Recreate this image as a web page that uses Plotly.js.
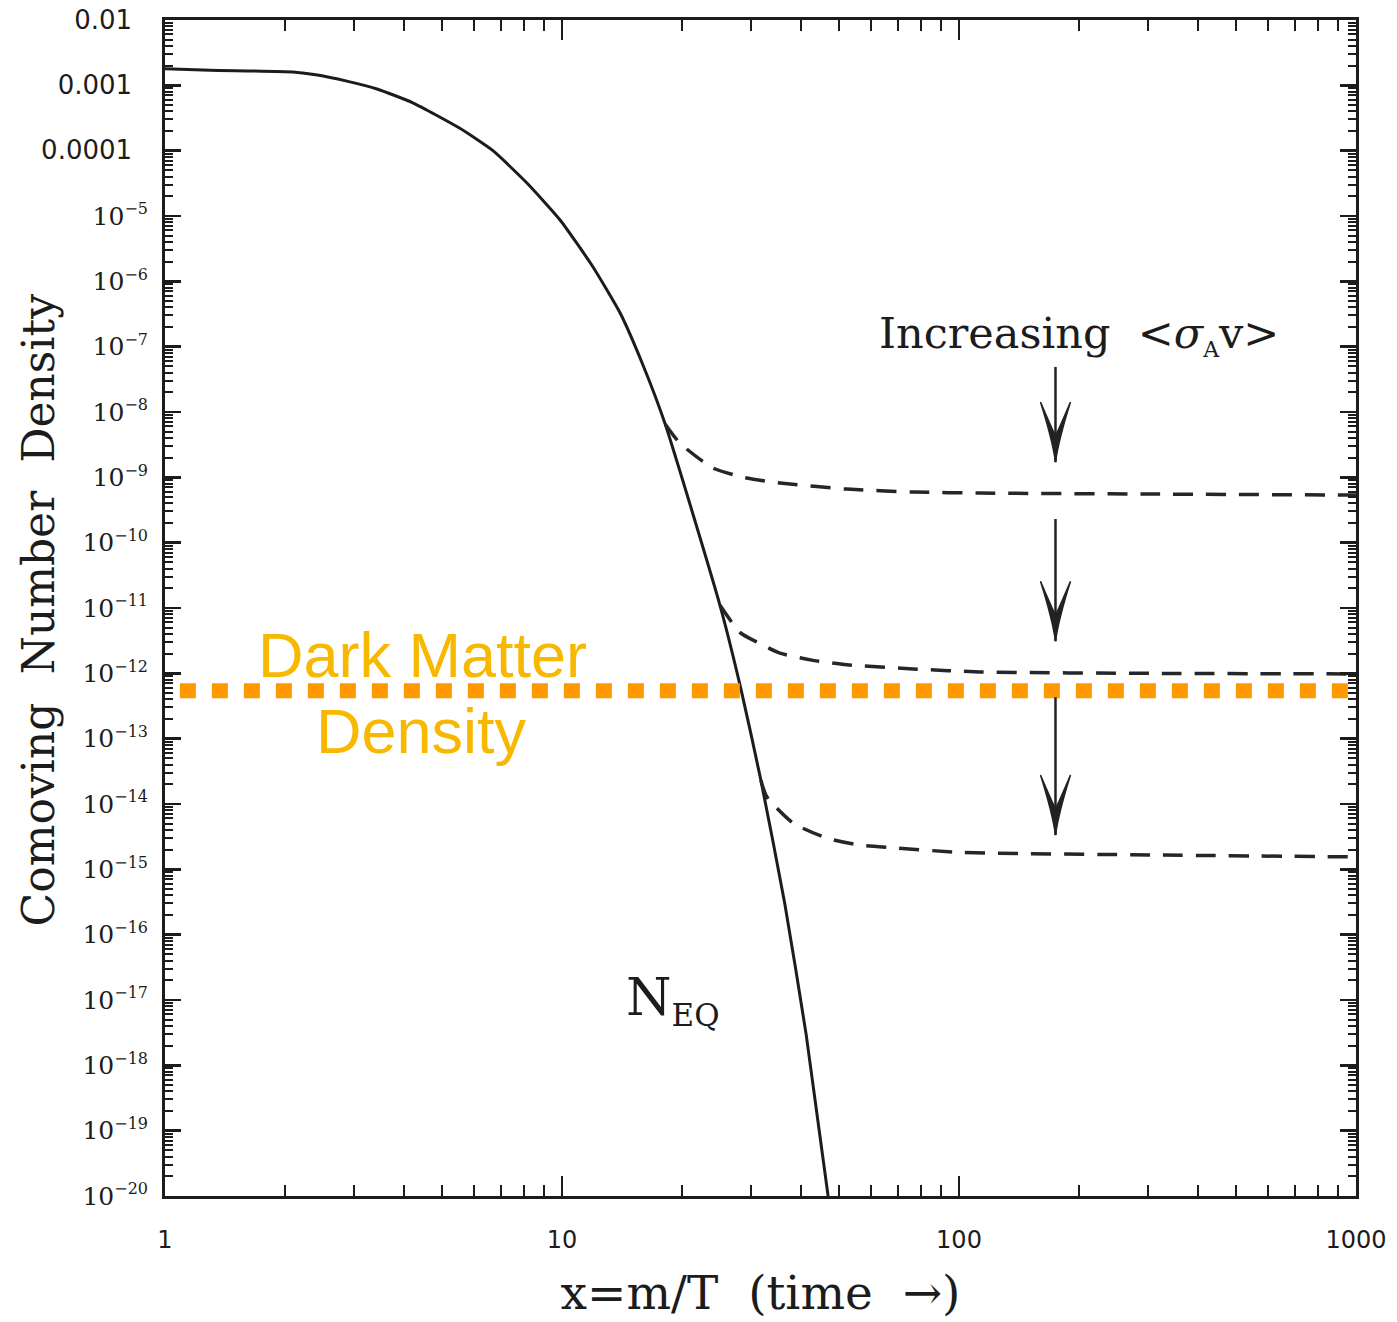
<!DOCTYPE html>
<html>
<head>
<meta charset="utf-8">
<script src="https://cdn.plot.ly/plotly-3.0.1.min.js"></script>
<style>
  html, body { margin: 0; padding: 0; background: #ffffff; }
  #chart { width: 1397px; height: 1322px; }
</style>
</head>
<body>
<div id="chart"></div>
<script>
// Equilibrium comoving number density N_EQ against x = m/T
const eqX = [1.0, 1.3, 2.1, 2.42, 2.87, 3.42, 4.21, 5.53, 6.70, 8.16, 9.89, 11.97, 14.0, 16.0, 18.2, 25.0, 28.3, 31.7, 36.4, 41.2, 46.8];
const eqY = [1.8e-3, 1.7e-3, 1.6e-3, 1.44e-3, 1.16e-3, 8.8e-4, 5.4e-4, 2.2e-4, 1.0e-4, 3.2e-5, 8.7e-6, 1.66e-6, 3.3e-7, 5.2e-8, 6.5e-9, 1.1e-11, 5.4e-13, 2.3e-14, 3.0e-16, 3.0e-18, 1e-20];

// Freeze-out branches, one per annihilation cross-section
const freeze1X = [18.2, 19.8, 24.0, 29.2, 35.4, 52.2, 76.6, 113, 303, 1000];
const freeze1Y = [6.5e-9, 3.35e-9, 1.39e-9, 9.75e-10, 8.2e-10, 6.6e-10, 5.96e-10, 5.75e-10, 5.55e-10, 5.36e-10];
const freeze2X = [25.0, 28.1, 31.0, 35.4, 42.9, 52.2, 76.6, 113, 303, 1000];
const freeze2Y = [1.1e-11, 4.2e-12, 3.0e-12, 2.04e-12, 1.58e-12, 1.35e-12, 1.17e-12, 1.05e-12, 1.0e-12, 9.8e-13];
const freeze3X = [31.7, 32.8, 38.2, 46.5, 56.4, 68.2, 101, 303, 1000];
const freeze3Y = [2.3e-14, 1.29e-14, 5.1e-15, 3.0e-15, 2.34e-15, 2.14e-15, 1.82e-15, 1.66e-15, 1.55e-15];

// Observed dark matter density level
const dmX = [1.09, 955];
const dmLevel = 5.4e-13;

// "Increasing <σv>" arrows: x position, shaft top, tip
const arrowX = 175;
const arrowTop = [4.9e-8, 2.3e-10, 4.3e-13];
const arrowTip = [1.71e-9, 3.1e-12, 3.35e-15];

// Axis ticks
const xTickVals = [1, 10, 100, 1000];
const xTickText = ['1', '10', '100', '1000'];
const yExponents = [];
for (let e = -2; e >= -20; e--) yExponents.push(e);
const serif = 'DejaVu Serif, serif';
const pad = '\u00a0\u00a0';
const yTickVals = yExponents.map(e => Math.pow(10, e));
const yTickText = yExponents.map(e => {
  if (e === -2) return '<span style="font-size:26px">0.01</span>' + pad;
  if (e === -3) return '<span style="font-size:26px">0.001</span>' + pad;
  if (e === -4) return '<span style="font-size:26px">0.0001</span>' + pad;
  return '<span style="font-family:' + serif + '">10<sup><span style="font-size:16px">\u2212' + (-e) + '</span></sup></span>';
});

function minorLogTicks(lo, hi) {
  const out = [];
  for (let d = lo; d < hi; d++) {
    for (let k = 2; k <= 9; k++) out.push(k * Math.pow(10, d));
  }
  return out;
}

const ink = '#1c1c1c';
const dashInk = '#262626';

const traces = [
  { x: eqX, y: eqY, mode: 'lines', name: 'N_EQ',
    line: { color: ink, width: 3, shape: 'spline', smoothing: 0.5 } },
  { x: freeze1X, y: freeze1Y, mode: 'lines', name: 'freeze-out 1',
    line: { color: dashInk, width: 3.5, dash: '20px,13px', shape: 'spline', smoothing: 0.6 } },
  { x: freeze2X, y: freeze2Y, mode: 'lines', name: 'freeze-out 2',
    line: { color: dashInk, width: 3.5, dash: '20px,13px', shape: 'spline', smoothing: 0.6 } },
  { x: freeze3X, y: freeze3Y, mode: 'lines', name: 'freeze-out 3',
    line: { color: dashInk, width: 3.5, dash: '20px,13px', shape: 'spline', smoothing: 0.6 } },
  { x: dmX, y: dmX.map(() => dmLevel), mode: 'lines', name: 'Dark Matter Density',
    line: { color: '#FF9900', width: 15, dash: '16px,16px' } }
];

const shapes = [];
arrowTip.forEach((tip, i) => {
  shapes.push({ type: 'line', xref: 'x', yref: 'y', x0: arrowX, x1: arrowX, y0: arrowTop[i], y1: tip,
    line: { color: '#222', width: 2.5 } });
  shapes.push({ type: 'path', xref: 'x', yref: 'y', xsizemode: 'pixel', ysizemode: 'pixel',
    xanchor: arrowX, yanchor: tip,
    path: 'M-15,60 Q-3,22 0,0 Q3,22 15,60 Q3,32 0,26 Q-3,32 -15,60 Z',
    fillcolor: '#222', line: { color: '#222', width: 1.5 } });
});

const layout = {
  width: 1397, height: 1322,
  margin: { l: 165, r: 41, t: 20, b: 126 },
  paper_bgcolor: '#ffffff', plot_bgcolor: '#ffffff',
  showlegend: false,
  font: { family: 'DejaVu Sans, sans-serif', color: ink },
  xaxis: {
    type: 'log', range: [0, 3],
    showgrid: false, zeroline: false,
    showline: true, linecolor: ink, linewidth: 3, mirror: 'allticks',
    ticks: 'inside', ticklen: 20, tickwidth: 2.5, tickcolor: ink,
    tickmode: 'array', tickvals: xTickVals, ticktext: xTickText,
    tickfont: { family: 'DejaVu Sans, sans-serif', size: 24, color: ink },
    ticklabelstandoff: 20,
    minor: { ticks: 'inside', ticklen: 11, tickwidth: 2, tickcolor: ink,
             tickmode: 'array', tickvals: minorLogTicks(0, 3), showgrid: false },
    title: { text: 'x=m/T\u00a0\u00a0(time\u00a0\u00a0\u2192)', standoff: 24,
             font: { family: serif, size: 47, color: ink } }
  },
  yaxis: {
    type: 'log', range: [-20, -2],
    showgrid: false, zeroline: false,
    showline: true, linecolor: ink, linewidth: 3, mirror: 'allticks',
    ticks: 'inside', ticklen: 16, tickwidth: 2.5, tickcolor: ink,
    tickmode: 'array', tickvals: yTickVals, ticktext: yTickText,
    tickfont: { family: 'DejaVu Sans, sans-serif', size: 25, color: ink },
    ticklabelstandoff: 9,
    minor: { ticks: 'inside', ticklen: 8, tickwidth: 2, tickcolor: ink,
             tickmode: 'array', tickvals: minorLogTicks(-20, -2), showgrid: false }
  },
  shapes: shapes,
  annotations: [
    { xref: 'paper', yref: 'paper', x: -0.1066, y: 0.498, textangle: -90,
      text: 'Comoving\u00a0\u00a0Number\u00a0\u00a0Density', showarrow: false,
      xanchor: 'center', yanchor: 'middle',
      font: { family: serif, size: 44, color: ink } },
    { xref: 'paper', yref: 'paper', x: 0.7674, y: 0.732,
      text: 'Increasing\u00a0\u00a0&lt;<i>\u03c3</i><sub><span style="font-size:22px">A</span></sub>v&gt;', showarrow: false,
      xanchor: 'center', yanchor: 'middle',
      font: { family: serif, size: 43, color: ink } },
    { xref: 'paper', yref: 'paper', x: 0.4265, y: 0.1665,
      text: 'N<sub><span style="font-size:31px">EQ</span></sub>', showarrow: false,
      xanchor: 'center', yanchor: 'middle',
      font: { family: serif, size: 52, color: ink } },
    { xref: 'paper', yref: 'paper', x: 0.2158, y: 0.46,
      text: 'Dark Matter', showarrow: false, xanchor: 'center', yanchor: 'middle',
      font: { family: 'Liberation Sans, Arial, sans-serif', size: 63, color: '#F8B800' } },
    { xref: 'paper', yref: 'paper', x: 0.2150, y: 0.395,
      text: 'Density', showarrow: false, xanchor: 'center', yanchor: 'middle',
      font: { family: 'Liberation Sans, Arial, sans-serif', size: 63, color: '#F8B800' } }
  ]
};

Plotly.newPlot('chart', traces, layout, { staticPlot: true, displayModeBar: false });
</script>
</body>
</html>
